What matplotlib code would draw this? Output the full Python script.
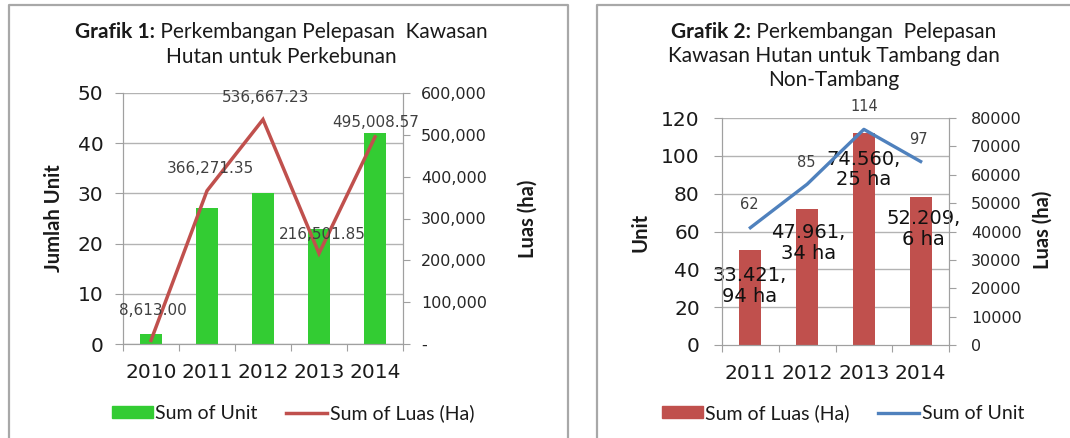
import matplotlib
matplotlib.use('Agg')
import matplotlib.pyplot as plt
from matplotlib.patches import Patch
from matplotlib.lines import Line2D
from matplotlib.ticker import FuncFormatter, FixedLocator

# ---------------- data ----------------
years1 = ['2010', '2011', '2012', '2013', '2014']
unit1 = [2, 27, 30, 23, 42]
luas1 = [8613.00, 366271.35, 536667.23, 216501.85, 495008.57]
luas1_labels = ['8,613.00', '366,271.35', '536,667.23', '216,501.85', '495,008.57']

years2 = ['2011', '2012', '2013', '2014']
luas2 = [33421.94, 47961.34, 74560.25, 52209.6]
luas2_labels = ['33.421,\n94 ha', '47.961,\n34 ha', '74.560,\n25 ha', '52.209,\n6 ha']
unit2 = [62, 85, 114, 97]

# ---------------- style ----------------
W, H = 1070, 438
GREEN = '#33CC33'
RED = '#C0504D'
BLUE = '#4F81BD'
GRID = '#B3B3B3'
SPINE = '#A0A0A0'
TXT = '#1A1A1A'
LBL = '#404040'
TFONT = 'Lato'
NFONT = 'DejaVu Sans'

fig = plt.figure(figsize=(W / 100, H / 100), dpi=100)


def rect(l, t, r, b):
    return [l / W, 1 - b / H, (r - l) / W, (b - t) / H]


def fx(x):
    return x / W


def fy(y):
    return 1 - y / H


# panel borders
for xs, ys in [([9, 9, 568, 568], [440, 5, 5, 440]),
               ([597, 597, 1072], [440, 5, 5])]:
    fig.add_artist(Line2D([fx(v) for v in xs], [fy(v) for v in ys],
                          transform=fig.transFigure, color='#A8A8A8', lw=1.6))


def style_axes(ax, axr, n, left_pad, right_pad):
    ax.set_xlim(-0.5, n - 0.5)
    ax.xaxis.set_major_locator(FixedLocator([i - 0.5 for i in range(n + 1)]))
    ax.xaxis.set_major_formatter(FuncFormatter(lambda v, p: ''))
    ax.xaxis.set_minor_locator(FixedLocator(list(range(n))))
    ax.tick_params(axis='x', which='major', length=5, color=SPINE, direction='out')
    ax.tick_params(axis='x', which='minor', length=0, pad=14, labelsize=14.5,
                   labelcolor=TXT)
    ax.tick_params(axis='y', length=6, color=SPINE, pad=left_pad, labelsize=14.5,
                   labelcolor=TXT)
    axr.tick_params(axis='y', length=5, color=SPINE, pad=right_pad, labelsize=11.5,
                    labelcolor='#262626')
    for a in (ax, axr):
        for s in a.spines.values():
            s.set_color(SPINE)
        a.spines['top'].set_visible(False)
    ax.set_axisbelow(True)
    ax.yaxis.grid(True, color=GRID, lw=1)


# ================= Chart 1 =================
ax1 = fig.add_axes(rect(123, 93, 403, 344))
x1 = list(range(len(years1)))
ax1.bar(x1, unit1, width=0.38, color=GREEN, zorder=2)
ax1.set_ylim(0, 50)
ax1.set_yticks(range(0, 51, 10))
ax1r = ax1.twinx()
ax1r.plot(x1, luas1, color=RED, lw=2.5, solid_joinstyle='miter')
ax1r.set_ylim(0, 600000)
ax1r.set_yticks(range(0, 600001, 100000))
ax1r.yaxis.set_major_formatter(FuncFormatter(lambda v, p: '-' if v == 0 else f'{v:,.0f}'))
style_axes(ax1, ax1r, len(years1), 8, 8)
ax1.set_xticks(x1, years1, minor=True)
for t in ax1.get_xticklabels(minor=True) + ax1.get_yticklabels() + ax1r.get_yticklabels():
    t.set_fontfamily(NFONT)

offs1 = [(2, 30), (3, 22), (3, 22), (3, 19), (1, 14)]
for xi, v, s, o in zip(x1, luas1, luas1_labels, offs1):
    ax1r.annotate(s, (xi, v), xytext=o, textcoords='offset pixels', ha='center',
                  va='center', fontsize=11, color=LBL, family=NFONT)

# ================= Chart 2 =================
ax2 = fig.add_axes(rect(722, 118, 949, 345))
x2 = list(range(len(years2)))
ax2r = ax2.twinx()
ax2.set_zorder(ax2r.get_zorder() + 1)
ax2.patch.set_visible(False)
ax2r.bar(x2, luas2, width=0.39, color=RED, zorder=2)
ax2r.set_ylim(0, 80000)
ax2r.set_yticks(range(0, 80001, 10000))
ax2.plot(x2, unit2, color=BLUE, lw=2.4)
ax2.set_ylim(0, 120)
ax2.set_yticks(range(0, 121, 20))
style_axes(ax2, ax2r, len(years2), 10, 11)
ax2.yaxis.grid(False)
ax2r.yaxis.grid(False)
# gridlines of the left (unit) axis drawn behind the bars
for gv in range(20, 121, 20):
    ax2r.axhline(gv / 120 * 80000, color=GRID, lw=1, zorder=0)
ax2.set_xticks(x2, years2, minor=True)
for t in ax2.get_xticklabels(minor=True) + ax2.get_yticklabels() + ax2r.get_yticklabels():
    t.set_fontfamily(NFONT)

offs2u = [(-1, 23), (-1, 22), (0, 23), (-2, 22)]
for xi, v, o in zip(x2, unit2, offs2u):
    ax2.annotate(str(v), (xi, v), xytext=o, textcoords='offset pixels', ha='center',
                 va='center', fontsize=10.5, color=LBL, family=NFONT)
offs2l = [(-1, -36), (1, -34), (0, -36), (3, -32)]
for xi, v, s, o in zip(x2, luas2, luas2_labels, offs2l):
    ax2r.annotate(s, (xi, v), xytext=o, textcoords='offset pixels', ha='center',
                  va='center', fontsize=14, color='#111111', family=NFONT,
                  linespacing=1.1)

# ================= titles =================
def mixed_title(lines, cx, ys, size):
    renderer = fig.canvas.get_renderer()
    for line, y in zip(lines, ys):
        bold, rest = line
        parts = []
        if bold:
            parts.append(fig.text(0, fy(y), bold, fontsize=size, family=TFONT,
                                  weight='bold', va='center', color=TXT))
        parts.append(fig.text(0, fy(y), rest, fontsize=size, family=TFONT,
                              va='center', color=TXT))
        widths = [p.get_window_extent(renderer).width for p in parts]
        total = sum(widths)
        x = cx - total / 2
        for p, w in zip(parts, widths):
            p.set_x(fx(x))
            x += w


mixed_title([('Grafik 1:', ' Perkembangan Pelepasan  Kawasan'),
             ('', 'Hutan untuk Perkebunan')], 281, [32, 57], 15)
mixed_title([('Grafik 2:', ' Perkembangan  Pelepasan'),
             ('', 'Kawasan Hutan untuk Tambang dan'),
             ('', 'Non-Tambang')], 834, [32, 56, 80], 15)

# ================= axis labels =================
fig.text(fx(54), fy(218), 'Jumlah Unit', rotation=90, ha='center', va='center',
         fontsize=14.5, family=TFONT, weight='bold', color=TXT)
fig.text(fx(528), fy(219), 'Luas (ha)', rotation=90, ha='center', va='center',
         fontsize=14.5, family=TFONT, weight='bold', color=TXT)
fig.text(fx(640), fy(232), 'Unit', rotation=90, ha='center', va='center',
         fontsize=14.5, family=TFONT, weight='bold', color=TXT)
fig.text(fx(1043), fy(230), 'Luas (ha)', rotation=90, ha='center', va='center',
         fontsize=14.5, family=TFONT, weight='bold', color=TXT)

# ================= legends =================
leg_kw = dict(loc='center', ncol=2, frameon=False,
              handlelength=2.1, handleheight=0.55, handletextpad=0.15,
              columnspacing=1.45, borderpad=0, borderaxespad=0)
h1 = [Patch(color=GREEN, label='Sum of Unit'),
      Line2D([], [], color=RED, lw=2.5, label='Sum of Luas (Ha)')]
l1 = ax1.legend(handles=h1, bbox_to_anchor=(fx(293), fy(413)),
                bbox_transform=fig.transFigure, prop={'family': TFONT, 'size': 14},
                **leg_kw)
h2 = [Patch(color=RED, label='Sum of Luas (Ha)'),
      Line2D([], [], color=BLUE, lw=2.4, label='Sum of Unit')]
l2 = ax2r.legend(handles=h2, bbox_to_anchor=(fx(843), fy(413)),
                 bbox_transform=fig.transFigure, prop={'family': TFONT, 'size': 14},
                 **leg_kw)
for lg in (l1, l2):
    for t in lg.get_texts():
        t.set_color(TXT)

fig.savefig('out.png', dpi=100, facecolor='white')
